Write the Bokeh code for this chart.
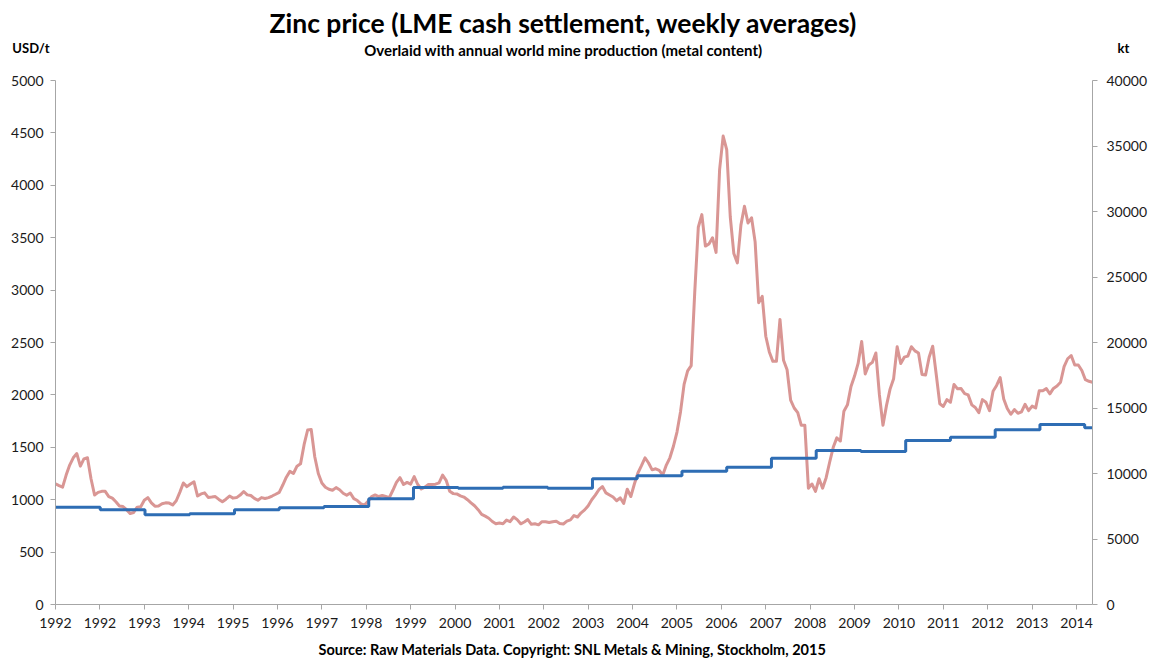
from bokeh.plotting import figure
from bokeh.layouts import column
from bokeh.models import Range1d, LinearAxis, FixedTicker, SingleIntervalTicker, Label, ColumnDataSource
from bokeh.embed import file_html
from bokeh.resources import INLINE

# ---------------- data ----------------
# x-axis: category index (one category per weekly average), tick every 50 categories
x_tick_labels = ["1992", "1992", "1993", "1994", "1995", "1996", "1997", "1998",
                 "1999", "2000", "2001", "2002", "2003", "2004", "2005", "2006",
                 "2007", "2008", "2009", "2010", "2011", "2012", "2013", "2014"]
tick_every = 50
n_categories = 1168

# zinc price, USD/t, read every 4th weekly category
price_sample_step = 4
price_usd = [
    1152, 1135, 1120, 1235, 1330, 1400, 1440, 1320, 1390, 1400,
    1200, 1045, 1070, 1080, 1080, 1030, 1015, 980, 940, 935,
    905, 868, 878, 929, 932, 995, 1020, 970, 938, 940,
    961, 970, 968, 950, 990, 1070, 1160, 1125, 1150, 1170,
    1035, 1055, 1065, 1022, 1025, 1030, 1003, 980, 1005, 1035,
    1015, 1020, 1044, 1078, 1046, 1040, 1012, 995, 1020, 1012,
    1020, 1035, 1052, 1070, 1140, 1215, 1270, 1250, 1320, 1342,
    1525, 1665, 1670, 1410, 1250, 1160, 1119, 1100, 1090, 1115,
    1095, 1062, 1043, 1064, 1010, 992, 960, 950, 985, 1030,
    1045, 1030, 1040, 1030, 1020, 1090, 1165, 1210, 1145, 1165,
    1148, 1220, 1145, 1102, 1120, 1145, 1145, 1148, 1160, 1235,
    1185, 1080, 1058, 1055, 1037, 1025, 1000, 970, 942, 905,
    860, 843, 823, 792, 770, 777, 770, 805, 790, 835,
    810, 770, 787, 810, 765, 770, 760, 790, 790, 782,
    790, 795, 773, 768, 795, 807, 849, 835, 875, 903,
    943, 1000, 1043, 1095, 1125, 1065, 1045, 1025, 990, 1018,
    965, 1100, 1030, 1150, 1255, 1325, 1400, 1350, 1285, 1295,
    1280, 1235, 1330, 1400, 1510, 1645, 1840, 2100, 2230, 2280,
    2980, 3600, 3720, 3420, 3440, 3500, 3360, 4150, 4470, 4340,
    3700, 3350, 3260, 3620, 3800, 3640, 3690, 3460, 2880, 2940,
    2560, 2410, 2320, 2320, 2720, 2330, 2240, 1950, 1875, 1830,
    1710, 1710, 1110, 1150, 1080, 1200, 1110, 1210, 1360, 1500,
    1590, 1560, 1845, 1905, 2080, 2180, 2300, 2510, 2200, 2285,
    2310, 2400, 2000, 1710, 1900, 2055, 2155, 2460, 2300, 2360,
    2370, 2460, 2420, 2400, 2195, 2190, 2360, 2465, 2195, 1915,
    1890, 1955, 1930, 2100, 2058, 2060, 2012, 2000, 1905, 1880,
    1830, 1955, 1930, 1850, 2035, 2090, 2165, 1960, 1870, 1815,
    1860, 1825, 1838, 1910, 1850, 1893, 1875, 2040, 2040, 2060,
    2010, 2062, 2085, 2121, 2270, 2345, 2376, 2285, 2285, 2233,
    2145, 2130, 2121,
]

# annual world mine production (metal content), kt
prod_years = list(range(1992, 2016))
prod_kt = [7430, 7230, 6850, 6920, 7230, 7380, 7480, 8070, 8930, 8880,
           8950, 8880, 9600, 9820, 10180, 10480, 11170, 11760, 11680, 12520,
           12770, 13340, 13740, 13490]
categories_per_year = 50.4

title_text = "Zinc price (LME cash settlement, weekly averages)"
subtitle_text = "Overlaid with annual world mine production (metal content)"
left_unit = "USD/t"
right_unit = "kt"
source_text = "Source: Raw Materials Data. Copyright: SNL Metals & Mining, Stockholm, 2015"

# ---------------- styling ----------------
RED = "#D99694"
BLUE = "#2E6DB4"
AXIS = "#A6A6A6"
TXT = "#1a1a1a"
FONT = "Lato"
W = 1150
BL, BR = 55, 58          # side borders shared by all stacked figures
FRAME_L, FRAME_R = BL, W - BR


def text_strip(height):
    f = figure(width=W, height=height, output_backend="svg", toolbar_location=None,
               x_range=Range1d(FRAME_L, FRAME_R), y_range=Range1d(height, 0),
               x_axis_location=None, y_axis_location=None,
               min_border_left=BL, min_border_right=BR, min_border_top=0, min_border_bottom=0)
    f.outline_line_color = None
    f.xgrid.visible = False
    f.ygrid.visible = False
    f.border_fill_color = "white"
    return f


def add_text(f, x, y, text, size, align="center"):
    f.add_layout(Label(x=x, y=y, text=text, text_font=FONT, text_font_size=size,
                       text_font_style="bold", text_color="black",
                       text_align=align, text_baseline="middle"))


def unit_axis(text, y, standoff):
    ax = LinearAxis(ticker=FixedTicker(ticks=[y]), major_label_overrides={y: text})
    ax.axis_line_color = None
    ax.major_tick_line_color = None
    ax.minor_tick_line_color = None
    ax.major_label_standoff = standoff
    ax.major_label_text_font = FONT
    ax.major_label_text_font_size = "13px"
    ax.major_label_text_font_style = "bold"
    ax.major_label_text_color = "black"
    return ax


# header with title, subtitle and unit labels
header = text_strip(70)
add_text(header, 563, 22, title_text, "26.5px")
add_text(header, 563, 49, subtitle_text, "15px")
header.add_layout(unit_axis(left_unit, 47, 0), "left")
header.add_layout(unit_axis(right_unit, 47, 19), "right")

# main chart
p = figure(width=W, height=566, output_backend="svg", toolbar_location=None,
           x_range=Range1d(0, n_categories), y_range=Range1d(0, 5000),
           min_border_left=BL, min_border_right=BR, min_border_top=10, min_border_bottom=32)
p.outline_line_color = None
p.xgrid.visible = False
p.ygrid.visible = False
p.background_fill_color = "white"
p.border_fill_color = "white"

p.extra_y_ranges = {"kt": Range1d(0, 40000)}

price_src = ColumnDataSource(dict(x=[price_sample_step * i for i in range(len(price_usd))], y=price_usd))
p.line("x", "y", source=price_src, line_color=RED, line_width=3, line_join="round")

step_x = [k * categories_per_year for k in range(len(prod_kt) + 1)]
step_y = prod_kt + [prod_kt[-1]]
p.step(step_x, step_y, mode="after", y_range_name="kt", line_color=BLUE, line_width=3)

xa = p.xaxis[0]
xa.ticker = FixedTicker(ticks=[tick_every * k for k in range(len(x_tick_labels))])
xa.major_label_overrides = {tick_every * k: lab for k, lab in enumerate(x_tick_labels)}
ya = p.yaxis[0]
ya.ticker = SingleIntervalTicker(interval=500)
ra = LinearAxis(y_range_name="kt", ticker=SingleIntervalTicker(interval=5000))
p.add_layout(ra, "right")

for ax in (xa, ya, ra):
    ax.axis_line_color = AXIS
    ax.axis_line_width = 1
    ax.major_tick_line_color = AXIS
    ax.major_tick_out = 5
    ax.major_tick_in = 0
    ax.minor_tick_line_color = None
    ax.major_label_text_font = FONT
    ax.major_label_text_font_size = "14px"
    ax.major_label_text_color = TXT
xa.major_label_standoff = 8
ya.major_label_standoff = 7
ra.major_label_standoff = 9

# footer with source
footer = text_strip(25)
add_text(footer, 572, 13, source_text, "14.5px")

layout = column(header, p, footer, spacing=0)
open("out.html", "w").write(file_html(layout, INLINE))
